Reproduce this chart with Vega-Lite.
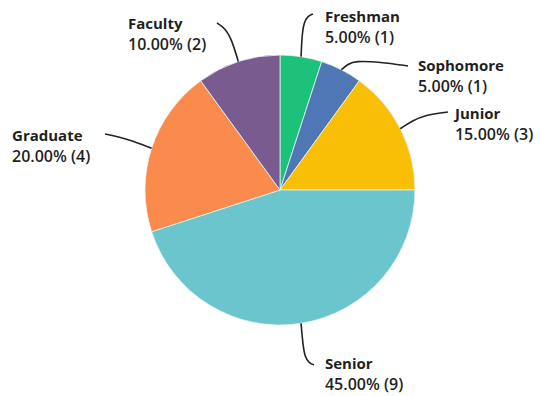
{
  "$schema": "https://vega.github.io/schema/vega-lite/v6.json",
  "width": 520,
  "height": 380,
  "autosize": {"type": "none"},
  "padding": {"left": 20, "top": 0, "right": 0, "bottom": 16},
  "background": "white",
  "config": {"view": {"stroke": null}},
  "datasets": {
    "pie": [
      {"group": "Freshman", "count": 1, "pct": "5.00%", "idx": 1},
      {"group": "Sophomore", "count": 1, "pct": "5.00%", "idx": 2},
      {"group": "Junior", "count": 3, "pct": "15.00%", "idx": 3},
      {"group": "Senior", "count": 9, "pct": "45.00%", "idx": 4},
      {"group": "Graduate", "count": 4, "pct": "20.00%", "idx": 5},
      {"group": "Faculty", "count": 2, "pct": "10.00%", "idx": 6}
    ],
    "callouts": [
      {"group": "Freshman", "value": "5.00% (1)", "u": 0.333, "v": 1.245},
      {"group": "Sophomore", "value": "5.00% (1)", "u": 1.022, "v": 0.885},
      {"group": "Junior", "value": "15.00% (3)", "u": 1.296, "v": 0.523},
      {"group": "Senior", "value": "45.00% (9)", "u": 0.333, "v": -1.329},
      {"group": "Graduate", "value": "20.00% (4)", "u": -1.985, "v": 0.36},
      {"group": "Faculty", "value": "10.00% (2)", "u": -1.126, "v": 1.189}
    ],
    "leaders": [
      {"group": "Freshman", "seq": 1, "u": 0.156, "v": 0.988},
      {"group": "Freshman", "seq": 2, "u": 0.163, "v": 1.148},
      {"group": "Freshman", "seq": 3, "u": 0.178, "v": 1.244},
      {"group": "Freshman", "seq": 4, "u": 0.207, "v": 1.289},
      {"group": "Freshman", "seq": 5, "u": 0.244, "v": 1.304},
      {"group": "Sophomore", "seq": 1, "u": 0.454, "v": 0.891},
      {"group": "Sophomore", "seq": 2, "u": 0.504, "v": 0.933},
      {"group": "Sophomore", "seq": 3, "u": 0.556, "v": 0.956},
      {"group": "Sophomore", "seq": 4, "u": 0.741, "v": 0.948},
      {"group": "Sophomore", "seq": 5, "u": 0.948, "v": 0.919},
      {"group": "Junior", "seq": 1, "u": 0.891, "v": 0.454},
      {"group": "Junior", "seq": 2, "u": 0.978, "v": 0.511},
      {"group": "Junior", "seq": 3, "u": 1.074, "v": 0.556},
      {"group": "Junior", "seq": 4, "u": 1.244, "v": 0.578},
      {"group": "Senior", "seq": 1, "u": 0.156, "v": -0.988},
      {"group": "Senior", "seq": 2, "u": 0.17, "v": -1.148},
      {"group": "Senior", "seq": 3, "u": 0.185, "v": -1.237},
      {"group": "Senior", "seq": 4, "u": 0.215, "v": -1.281},
      {"group": "Senior", "seq": 5, "u": 0.252, "v": -1.296},
      {"group": "Graduate", "seq": 1, "u": -0.951, "v": 0.309},
      {"group": "Graduate", "seq": 2, "u": -1.126, "v": 0.378},
      {"group": "Graduate", "seq": 3, "u": -1.296, "v": 0.415},
      {"group": "Faculty", "seq": 1, "u": -0.309, "v": 0.951},
      {"group": "Faculty", "seq": 2, "u": -0.356, "v": 1.111},
      {"group": "Faculty", "seq": 3, "u": -0.407, "v": 1.2},
      {"group": "Faculty", "seq": 4, "u": -0.467, "v": 1.237}
    ]
  },
  "layer": [
    {
      "data": {"name": "pie"},
      "mark": {"type": "arc", "radius": 135, "stroke": "#e8f4f4", "strokeWidth": 0.8},
      "encoding": {
        "theta": {"field": "count", "type": "quantitative", "stack": true},
        "order": {"field": "idx", "type": "quantitative"},
        "color": {
          "field": "group",
          "type": "nominal",
          "scale": {
            "domain": ["Freshman", "Sophomore", "Junior", "Senior", "Graduate", "Faculty"],
            "range": ["#1cc27a", "#4f77b6", "#f8bf06", "#6ac6cc", "#fb8a4d", "#7a5b8f"]
          },
          "legend": null
        }
      }
    },
    {
      "data": {"name": "leaders"},
      "mark": {"type": "line", "interpolate": "basis", "stroke": "#222222", "strokeWidth": 1.6},
      "encoding": {
        "x": {"field": "u", "type": "quantitative", "scale": {"domain": [-1.9259, 1.9259], "nice": false, "zero": false}, "axis": null},
        "y": {"field": "v", "type": "quantitative", "scale": {"domain": [-1.4074, 1.4074], "nice": false, "zero": false}, "axis": null},
        "detail": {"field": "group", "type": "nominal"},
        "order": {"field": "seq", "type": "quantitative"}
      }
    },
    {
      "data": {"name": "callouts"},
      "mark": {"type": "text", "align": "left", "baseline": "alphabetic", "font": "Open Sans", "fontSize": 15, "fontWeight": "bold", "fill": "#1f1f1f"},
      "encoding": {
        "x": {"field": "u", "type": "quantitative"},
        "y": {"field": "v", "type": "quantitative"},
        "text": {"field": "group", "type": "nominal"}
      }
    },
    {
      "data": {"name": "callouts"},
      "mark": {"type": "text", "align": "left", "baseline": "alphabetic", "dy": 21, "font": "Open Sans", "fontSize": 16, "fontWeight": 600, "fill": "#1f1f1f"},
      "encoding": {
        "x": {"field": "u", "type": "quantitative"},
        "y": {"field": "v", "type": "quantitative"},
        "text": {"field": "value", "type": "nominal"}
      }
    }
  ]
}
